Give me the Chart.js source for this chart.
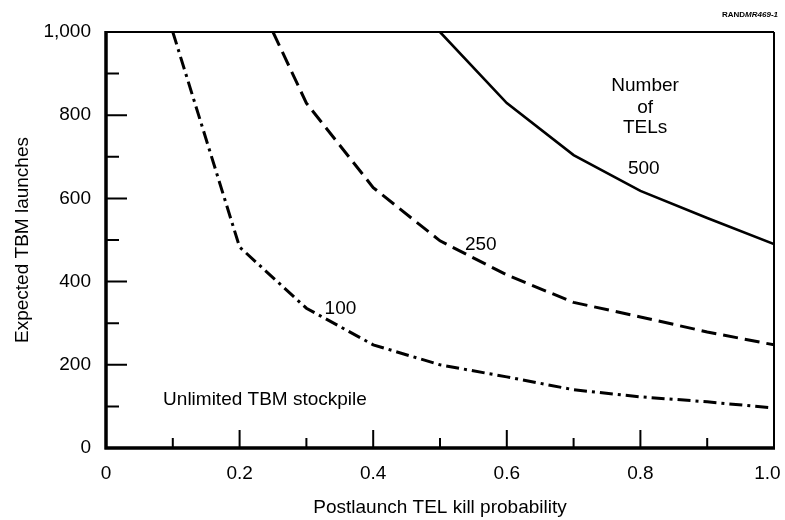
<!DOCTYPE html>
<html lang="en">
<head>
    <meta charset="UTF-8">
    <title>Expected TBM launches</title>
    <script src="https://cdn.jsdelivr.net/npm/chart.js@4.4.1/dist/chart.umd.min.js"></script>
    <style>
        html, body { margin: 0; padding: 0; background: #fff; }
        #wrap { width: 785px; height: 520px; }
    </style>
</head>
<body>
    <div id="wrap">
        <canvas id="chart" width="785" height="520"></canvas>
    </div>

    <script>
        // values
        const tel100X = [0.1, 0.2, 0.3, 0.4, 0.5, 0.6, 0.7, 0.8, 0.9, 1.0];
        const tel100Y = [1000, 483, 336, 248, 200, 171, 140, 123, 111, 96];
        const tel250X = [0.25, 0.3, 0.4, 0.5, 0.6, 0.7, 0.8, 0.9, 1.0];
        const tel250Y = [1000, 829, 626, 498, 416, 350, 315, 279, 248];
        const tel500X = [0.5, 0.6, 0.7, 0.8, 0.9, 1.0];
        const tel500Y = [1000, 829, 704, 618, 553, 490];

        const xMajor = [0, 0.2, 0.4, 0.6, 0.8, 1.0];
        const xMinor = [0.1, 0.3, 0.5, 0.7, 0.9];
        const yMajor = [0, 200, 400, 600, 800, 1000];
        const yMinor = [100, 300, 500, 700, 900];

        const FONT = '"Liberation Sans", Arial, Helvetica, sans-serif';
        const INK = '#000';

        function pts(xs, ys) {
            return xs.map((x, i) => ({x: x, y: ys[i]}));
        }

        // frame, inward ticks and in-plot text
        const decor = {
            id: 'decor',
            afterDraw(chart) {
                const ctx = chart.ctx;
                const a = chart.chartArea;
                const xs = chart.scales.x, ys = chart.scales.y;
                ctx.save();
                ctx.strokeStyle = INK;
                ctx.lineCap = 'butt';

                // top and right thinner
                ctx.lineWidth = 2;
                ctx.beginPath();
                ctx.moveTo(a.left, a.top); ctx.lineTo(a.right, a.top);
                ctx.moveTo(a.right, a.top); ctx.lineTo(a.right, a.bottom);
                ctx.stroke();
                // left and bottom heavy
                ctx.lineWidth = 3.5;
                ctx.beginPath();
                ctx.moveTo(a.left, a.top - 1); ctx.lineTo(a.left, a.bottom + 1.5);
                ctx.moveTo(a.left - 1.5, a.bottom); ctx.lineTo(a.right + 1, a.bottom);
                ctx.stroke();

                ctx.lineWidth = 2;
                ctx.beginPath();
                yMajor.forEach(v => {
                    const p = ys.getPixelForValue(v);
                    ctx.moveTo(a.left, p); ctx.lineTo(a.left + 21, p);
                });
                yMinor.forEach(v => {
                    const p = ys.getPixelForValue(v);
                    ctx.moveTo(a.left, p); ctx.lineTo(a.left + 13, p);
                });
                xMajor.forEach(v => {
                    const p = xs.getPixelForValue(v);
                    ctx.moveTo(p, a.bottom); ctx.lineTo(p, a.bottom - 18);
                });
                xMinor.forEach(v => {
                    const p = xs.getPixelForValue(v);
                    ctx.moveTo(p, a.bottom); ctx.lineTo(p, a.bottom - 10);
                });
                ctx.stroke();

                // labels
                ctx.fillStyle = INK;
                ctx.font = '19px ' + FONT;
                ctx.textAlign = 'center';
                ctx.textBaseline = 'middle';
                const put = (t, x, y) => ctx.fillText(t, xs.getPixelForValue(x), ys.getPixelForValue(y));
                put('Number', 0.807, 870);
                put('of', 0.807, 818);
                put('TELs', 0.807, 770);
                put('500', 0.805, 672);
                put('250', 0.561, 488);
                put('100', 0.351, 334);
                put('Unlimited TBM stockpile', 0.238, 115);

                // figure id
                ctx.textAlign = 'left';
                ctx.font = 'bold 8px ' + FONT;
                const w1 = ctx.measureText('RAND').width;
                ctx.font = 'italic bold 8px ' + FONT;
                const w2 = ctx.measureText('MR469-1').width;
                const x0 = a.right + 4 - (w1 + w2);
                ctx.font = 'bold 8px ' + FONT;
                ctx.fillText('RAND', x0, 15);
                ctx.font = 'italic bold 8px ' + FONT;
                ctx.fillText('MR469-1', x0 + w1, 15);
                ctx.restore();
            }
        };

        Chart.defaults.font.family = FONT;
        Chart.defaults.font.size = 19;
        Chart.defaults.color = INK;

        const ctx = document.getElementById('chart').getContext('2d');
        new Chart(ctx, {
            type: 'line',
            data: {
                datasets: [
                    {
                        label: '100',
                        data: pts(tel100X, tel100Y),
                        borderColor: INK,
                        borderWidth: 3,
                        borderDash: [13, 5, 3, 5]
                    },
                    {
                        label: '250',
                        data: pts(tel250X, tel250Y),
                        borderColor: INK,
                        borderWidth: 3,
                        borderDash: [15, 7]
                    },
                    {
                        label: '500',
                        data: pts(tel500X, tel500Y),
                        borderColor: INK,
                        borderWidth: 2.6
                    }
                ]
            },
            options: {
                responsive: false,
                animation: false,
                elements: { point: { radius: 0 }, line: { tension: 0 } },
                layout: { padding: { left: 0, top: 32, right: 11, bottom: 0 } },
                plugins: { legend: { display: false }, tooltip: { enabled: false } },
                scales: {
                    x: {
                        type: 'linear',
                        min: 0,
                        max: 1,
                        grid: { display: false },
                        border: { display: false },
                        ticks: {
                            stepSize: 0.2,
                            padding: 6,
                            maxRotation: 0,
                            // last label sits a little left of its tick, as in the print
                            callback: v => v === 0 ? '0' : (v === 1 ? '1.0\u2002\u2009' : v.toFixed(1))
                        },
                        title: {
                            display: true,
                            text: 'Postlaunch TEL kill probability',
                            padding: { top: 0, bottom: 1 }
                        },
                        afterFit: s => {
                            s.height = 72;
                            s.paddingLeft = 0;
                            s.paddingRight = 0;
                        }
                    },
                    y: {
                        min: 0,
                        max: 1000,
                        grid: { display: false },
                        border: { display: false },
                        ticks: {
                            stepSize: 200,
                            padding: 7,
                            callback: v => v.toLocaleString('en-US')
                        },
                        title: {
                            display: true,
                            text: 'Expected TBM launches',
                            padding: { top: 11, bottom: 0 }
                        },
                        afterFit: s => {
                            s.width = 106;
                            s.paddingTop = 0;
                            s.paddingBottom = 0;
                        }
                    }
                }
            },
            plugins: [decor]
        });
    </script>
</body>
</html>
